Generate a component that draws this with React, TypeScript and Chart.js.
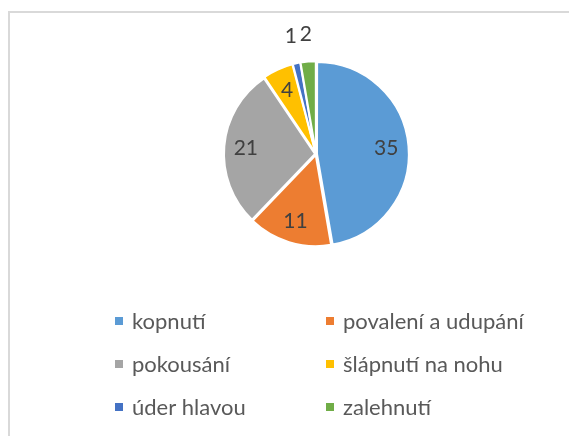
import React, { useEffect, useRef } from "react";
import { Chart, registerables } from "chart.js";

Chart.register(...registerables);

const categories = [
  "kopnutí",
  "povalení a udupání",
  "pokousání",
  "šlápnutí na nohu",
  "úder hlavou",
  "zalehnutí",
];
const values = [35, 11, 21, 4, 1, 2];
const colors = ["#5B9BD5", "#ED7D31", "#A5A5A5", "#FFC000", "#4472C4", "#70AD47"];

const FONT = "Lato, 'Open Sans', sans-serif";

const labelPlugin = {
  id: "sliceLabels",
  afterDatasetsDraw(chart: any) {
    const ctx = chart.ctx;
    const meta = chart.getDatasetMeta(0);
    const data = chart.data.datasets[0].data as number[];
    const total = data.reduce((a, b) => a + b, 0);
    ctx.save();
    ctx.font = `21px ${FONT}`;
    ctx.fillStyle = "#404040";
    ctx.textAlign = "center";
    ctx.textBaseline = "middle";
    meta.data.forEach((arc: any, i: number) => {
      const p = arc.getProps(["x", "y", "startAngle", "endAngle", "outerRadius"], true);
      const off = arc.options.offset || 0;
      const mid = (p.startAngle + p.endAngle) / 2;
      const share = data[i] / total;
      const d = share < 0.03 ? p.outerRadius + off + 25 : off + p.outerRadius * 0.73;
      ctx.fillText(String(data[i]), p.x + Math.cos(mid) * d, p.y + Math.sin(mid) * d);
    });
    ctx.restore();
  },
};

const legendPlugin = {
  id: "gridLegend",
  afterDraw(chart: any) {
    const ctx = chart.ctx;
    const labels = chart.data.labels as string[];
    const bg = chart.data.datasets[0].backgroundColor as string[];
    const colX = [115, 326];
    const rowY0 = 321;
    const rowGap = 43;
    ctx.save();
    ctx.font = `22px ${FONT}`;
    ctx.textAlign = "left";
    ctx.textBaseline = "middle";
    labels.forEach((lab, i) => {
      const cx = colX[i % 2];
      const cy = rowY0 + Math.floor(i / 2) * rowGap;
      ctx.fillStyle = bg[i];
      ctx.fillRect(cx, cy - 4, 8, 8);
      ctx.fillStyle = "#595959";
      ctx.fillText(lab, cx + 17, cy + 1);
    });
    ctx.restore();
  },
};

export default function App() {
  const ref = useRef<HTMLCanvasElement>(null);
  useEffect(() => {
    if (!ref.current) return;
    const chart = new Chart(ref.current, {
      type: "pie",
      data: {
        labels: categories,
        datasets: [
          {
            data: values,
            backgroundColor: colors,
            borderColor: "#ffffff",
            borderWidth: 2,
            hoverBorderWidth: 2,
            offset: 4,
            hoverOffset: 4,
          },
        ],
      },
      options: {
        animation: false,
        responsive: false,
        events: [],
        layout: { padding: { left: 222, right: 159, top: 60, bottom: 188 } },
        plugins: {
          legend: { display: false },
          tooltip: { enabled: false },
        },
      },
      plugins: [labelPlugin, legendPlugin],
    });
    return () => chart.destroy();
  }, []);
  return (
    <div style={{ position: "fixed", left: 0, top: 0, width: 569, height: 436, background: "#fff", overflow: "hidden" }}>
      <div
        style={{
          position: "absolute",
          left: 8,
          top: 11,
          width: 700,
          height: 600,
          border: "2px solid #d9d9d9",
        }}
      />
      <canvas ref={ref} width={569} height={436} style={{ position: "absolute", left: 0, top: 0, width: 569, height: 436 }} />
    </div>
  );
}
